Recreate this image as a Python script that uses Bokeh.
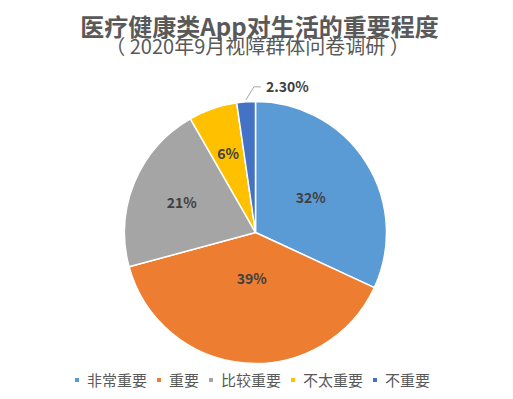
import math
from bokeh.plotting import figure
from bokeh.models import ColumnDataSource, Range1d, Legend, LegendItem
from bokeh.core.properties import value
from bokeh.embed import file_html
from bokeh.resources import INLINE

# ---- data ----
categories = ["非常重要", "重要", "比较重要", "不太重要", "不重要"]
shares = [32, 39, 21, 6, 2.3]
label_texts = ["32%", "39%", "21%", "6%", "2.30%"]
colors = ["#5B9BD5", "#ED7D31", "#A5A5A5", "#FFC000", "#4472C4"]

title_text = "医疗健康类App对生活的重要程度"
subtitle_text = "（ 2020年9月视障群体问卷调研 ）"

# ---- layout ----
W, H = 513, 399
cx, cy, R = 255, 167, 131
label_r = [0.50, 0.35, 0.61, 0.64]
FONT = "Noto Sans CJK SC"

total = sum(shares)
starts, ends, mids = [], [], []
a = math.pi / 2
for v in shares:
    sweep = v / total * 2 * math.pi
    starts.append(a)
    ends.append(a - sweep)
    mids.append(a - sweep / 2)
    a -= sweep

p = figure(width=W, height=H, output_backend="svg", toolbar_location=None,
           x_range=Range1d(0, W), y_range=Range1d(0, H), min_border=0)
p.axis.visible = False
p.grid.visible = False
p.outline_line_color = None
p.min_border_left = p.min_border_right = p.min_border_top = p.min_border_bottom = 0

src = ColumnDataSource(dict(start=starts, end=ends, color=colors, cat=categories))
wr = p.wedge(x=cx, y=cy, radius=R, start_angle="start", end_angle="end",
             direction="clock", fill_color="color", line_color="white",
             line_width=1.5, source=src)

# inside labels
lx = [cx + label_r[i] * R * math.cos(mids[i]) for i in range(4)]
ly = [cy + label_r[i] * R * math.sin(mids[i]) for i in range(4)]
p.text(x=lx, y=ly, text=label_texts[:4], text_align="center", text_baseline="middle",
       text_font=value(FONT), text_font_size="14px", text_font_style="bold",
       text_color="#404040")

# outside label with leader line for last slice
m = mids[4]
x0 = cx + (R + 2) * math.cos(m)
y0 = cy + (R + 2) * math.sin(m)
x1, y1 = x0 + 8, y0 + 13
x2 = x1 + 7
p.line(x=[x0, x1, x2], y=[y0, y1, y1], line_color="#A6A6A6", line_width=1)
p.text(x=[x2 + 5], y=[y1 + 1], text=[label_texts[4]], text_align="left",
       text_baseline="middle", text_font=value(FONT), text_font_size="14px",
       text_font_style="bold", text_color="#404040")

# titles
p.text(x=[259], y=[374], text=[title_text], text_align="center", text_baseline="middle",
       text_font=value(FONT), text_font_size="24px", text_font_style="bold",
       text_color="#595959")
p.text(x=[257], y=[354], text=[subtitle_text], text_align="center", text_baseline="middle",
       text_font=value(FONT), text_font_size="20px", text_color="#595959")

# legend
items = [LegendItem(label=categories[i], renderers=[wr], index=i) for i in range(len(categories))]
legend = Legend(items=items, orientation="horizontal", location=(73, 9),
                glyph_width=7, glyph_height=7, label_standoff=7, spacing=8,
                label_text_font=FONT, label_text_font_size="15px",
                label_text_color="#595959", label_height=16, padding=0, margin=0,
                border_line_alpha=0, background_fill_alpha=0)
p.add_layout(legend, "center")

open("out.html", "w").write(file_html(p, INLINE))
